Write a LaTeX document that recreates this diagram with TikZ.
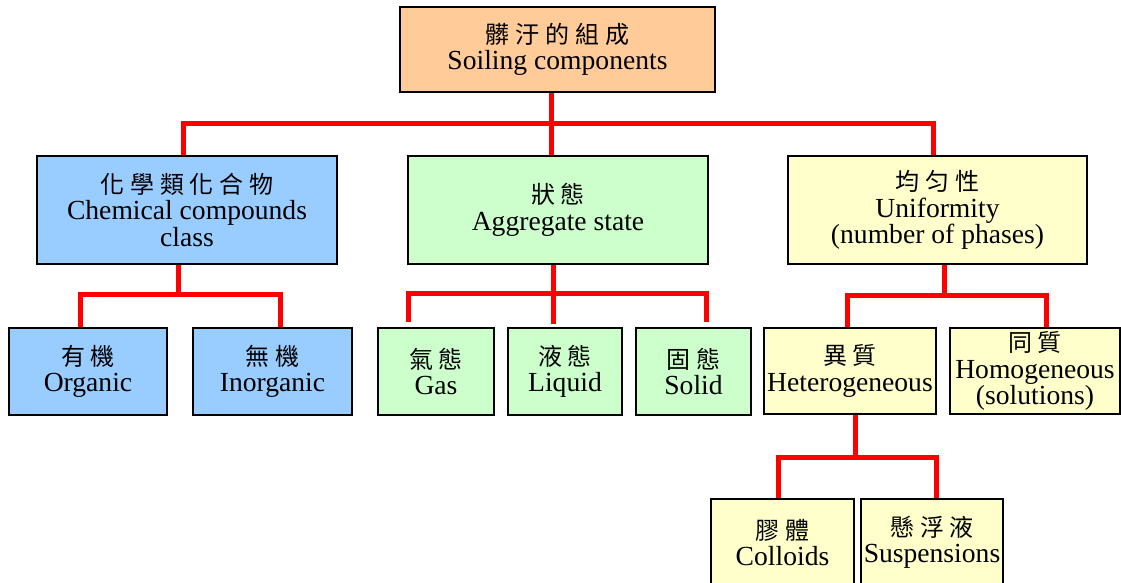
\documentclass[tikz,border=0pt]{standalone}
\usepackage{fontspec}
\setmainfont{Liberation Serif}
\newfontfamily\cjk[LetterSpace=24]{Noto Sans CJK TC}
\usepackage{tikz}

\newcommand{\zh}[1]{{\cjk\fontsize{12}{13}\selectfont #1}}

\definecolor{peach}{HTML}{FFCC99}
\definecolor{skyblue}{HTML}{99CCFF}
\definecolor{mint}{HTML}{CCFFCC}
\definecolor{cream}{HTML}{FFFFCC}

\tikzset{
  box/.style={draw=black, line width=0.8pt, align=center, inner sep=0pt,
    font=\fontsize{13.8}{13.2}\selectfont},
  link/.style={draw=red, line width=2.5pt, line join=miter}
}

\begin{document}
\begin{tikzpicture}[x=0.5pt,y=-0.5pt]
\useasboundingbox (0,0) rectangle (1121,583);
% boxes
\node[box, fill=peach, minimum width=157.5pt, minimum height=42.5pt] (top) at (557.5,49.5) {\zh{髒汙的組成}\\Soiling components};
\node[box, fill=skyblue, minimum width=150pt, minimum height=54pt] (chem) at (187,210) {\zh{化學類化合物}\\Chemical compounds\\class};
\node[box, fill=mint, minimum width=150pt, minimum height=54pt] (agg) at (558,210) {\zh{狀態}\\Aggregate state};
\node[box, fill=cream, minimum width=149.5pt, minimum height=54pt] (unif) at (937.5,210) {\zh{均匀性}\\Uniformity\\(number of phases)};
\node[box, fill=skyblue, minimum width=79pt, minimum height=43.5pt] (org) at (88,371.5) {\zh{有機}\\Organic};
\node[box, fill=skyblue, minimum width=79.5pt, minimum height=43.5pt] (inorg) at (272.5,371.5) {\zh{無機}\\Inorganic};
\node[box, fill=mint, minimum width=58pt, minimum height=43.5pt] (gas) at (436,371.5) {\zh{氣態}\\Gas};
\node[box, fill=mint, minimum width=57pt, minimum height=43.5pt] (liq) at (565,371.5) {\zh{液態}\\Liquid};
\node[box, fill=mint, minimum width=57.5pt, minimum height=43.5pt] (sol) at (693.5,371.5) {\zh{固態}\\Solid};
\node[box, fill=cream, minimum width=86pt, minimum height=43pt] (het) at (850,371) {\zh{異質}\\Heterogeneous};
\node[box, fill=cream, minimum width=85pt, minimum height=43pt] (hom) at (1035,371) {\zh{同質}\\Homogeneous\\(solutions)};
\node[box, fill=cream, minimum width=71.5pt, minimum height=43.5pt] (col) at (782.5,542.5) {\zh{膠體}\\Colloids};
\node[box, fill=cream, minimum width=71pt, minimum height=43.5pt] (sus) at (932,542.5) {\zh{懸浮液}\\Suspensions};
% junctions
\coordinate (j0) at (551,124);
\coordinate (l0) at (183,124);
\coordinate (r0) at (933,124);
\coordinate (j1) at (178,295);
\coordinate (l1) at (80,295);
\coordinate (r1) at (280,295);
\coordinate (j2) at (553,294);
\coordinate (l2) at (408,294);
\coordinate (r2) at (706,294);
\coordinate (j3) at (944,296);
\coordinate (l3) at (847,296);
\coordinate (r3) at (1046,296);
\coordinate (j4) at (855,457);
\coordinate (l4) at (778,457);
\coordinate (r4) at (936,457);
% links
\draw[link] (top.south -| j0) -- (agg.north -| j0);
\draw[link] (chem.north -| l0) -- (l0) -- (r0) -- (unif.north -| r0);
\draw[link] (chem.south -| j1) -- (j1);
\draw[link] (org.north -| l1) -- (l1) -- (r1) -- (inorg.north -| r1);
\draw[link, shorten >=1.5pt] (agg.south -| j2) -- (liq.north -| j2);
\draw[link, shorten <=2.5pt, shorten >=2.5pt] (gas.north -| l2) -- (l2) -- (r2) -- (sol.north -| r2);
\draw[link] (unif.south -| j3) -- (j3);
\draw[link] (het.north -| l3) -- (l3) -- (r3) -- (hom.north -| r3);
\draw[link] (het.south -| j4) -- (j4);
\draw[link] (col.north -| l4) -- (l4) -- (r4) -- (sus.north -| r4);
\end{tikzpicture}
\end{document}
